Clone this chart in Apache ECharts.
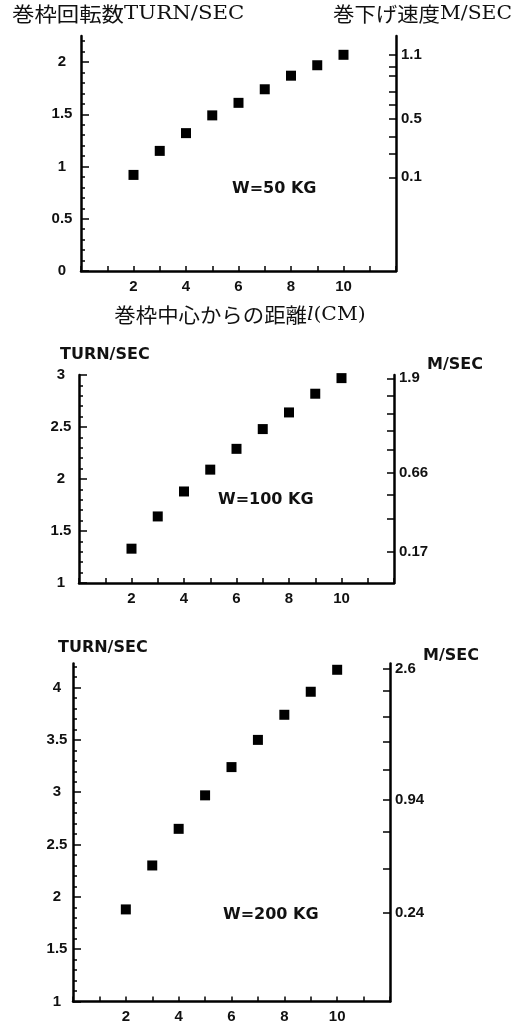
<!DOCTYPE html>
<html>
<head>
<meta charset="utf-8">
<script src="https://cdn.jsdelivr.net/npm/echarts@6/dist/echarts.min.js"></script>
<style>
  html, body { margin: 0; padding: 0; background: #fff; }
  #chart { width: 517px; height: 1024px; }
</style>
</head>
<body>
<div id="chart"></div>
<script>
// distance from drum centre l (cm)
const distance = [2, 3, 4, 5, 6, 7, 8, 9, 10];

// drum turns per second, one array per load W
const turns50 = [0.92, 1.15, 1.32, 1.49, 1.61, 1.74, 1.87, 1.97, 2.07];
const turns100 = [1.33, 1.64, 1.88, 2.09, 2.29, 2.48, 2.64, 2.82, 2.97];
const turns200 = [1.88, 2.30, 2.65, 2.97, 3.24, 3.50, 3.74, 3.96, 4.17];

// tick labels
const xTickLabels = [2, 4, 6, 8, 10];
const turnLabels50 = [0, 0.5, 1, 1.5, 2];
const turnLabels100 = [1, 1.5, 2, 2.5, 3];
const turnLabels200 = [1, 1.5, 2, 2.5, 3, 3.5, 4];

// lowering speed scale (right axis), ticks placed at turn-axis heights
const speedPos50 = [2.067, 1.957, 1.865, 1.715, 1.596, 1.459, 1.288, 1.125, 0.897];
const speedText50 = ["1.1", "", "", "", "", "0.5", "", "", "0.1"];
const speedPos100 = [2.968, 2.798, 2.625, 2.464, 2.286, 2.061, 1.853, 1.615, 1.301];
const speedText100 = ["1.9", "", "", "", "", "0.66", "", "", "0.17"];
const speedPos200 = [4.177, 3.969, 3.724, 3.485, 3.214, 2.927, 2.619, 2.265, 1.844];
const speedText200 = ["2.6", "", "", "", "", "0.94", "", "", "0.24"];

const panels = [
  { turns: turns50, labels: turnLabels50, min: 0, max: 2.25, speedPos: speedPos50, speedText: speedText50,
    grid: { left: 81, top: 36, width: 315, height: 235 }, labelMargin: 19 },
  { turns: turns100, labels: turnLabels100, min: 1, max: 3, speedPos: speedPos100, speedText: speedText100,
    grid: { left: 79, top: 375, width: 315, height: 208 }, labelMargin: 18 },
  { turns: turns200, labels: turnLabels200, min: 1, max: 4.23, speedPos: speedPos200, speedText: speedText200,
    grid: { left: 73, top: 663.5, width: 317, height: 338 }, labelMargin: 16 },
];

const ink = "#000";
const numFont = { color: "#111", fontFamily: "Liberation Sans", fontWeight: "bold", fontSize: 15 };
const boldSans = "bold 16px 'DejaVu Sans'";

const grids = [];
const xAxes = [];
const yAxes = [];
const series = [];

panels.forEach((p, i) => {
  grids.push(Object.assign({ containLabel: false, outerBoundsMode: "none" }, p.grid));

  xAxes.push({
    type: "value",
    gridIndex: i,
    min: 0,
    max: 12,
    interval: 1,
    axisLine: { show: true, lineStyle: { color: ink, width: 2.5 } },
    axisTick: { show: true, inside: true, length: 5, lineStyle: { color: ink, width: 1.5 } },
    axisLabel: Object.assign({ customValues: xTickLabels, margin: 8 }, numFont),
    splitLine: { show: false },
  });

  // turns per second (left)
  yAxes.push({
    type: "value",
    gridIndex: i,
    position: "left",
    min: p.min,
    max: p.max,
    interval: 0.5,
    axisLine: { show: true, lineStyle: { color: ink, width: 2.5 } },
    axisTick: { show: true, inside: true, length: 8, customValues: p.labels, lineStyle: { color: ink, width: 1.5 } },
    minorTick: { show: true, splitNumber: 5, length: 4, lineStyle: { color: ink, width: 1.5 } },
    axisLabel: Object.assign({ customValues: p.labels, align: "center", margin: p.labelMargin }, numFont),
    splitLine: { show: false },
    minorSplitLine: { show: false },
  });

  // lowering speed (right)
  const labelled = p.speedPos.filter((v, k) => p.speedText[k] !== "");
  yAxes.push({
    type: "value",
    gridIndex: i,
    position: "right",
    min: p.min,
    max: p.max,
    axisLine: { show: true, lineStyle: { color: ink, width: 2.5 } },
    axisTick: { show: true, inside: true, length: 7, customValues: p.speedPos, lineStyle: { color: ink, width: 1.5 } },
    axisLabel: Object.assign({
      customValues: labelled,
      margin: 5,
      formatter: (v) => {
        const k = p.speedPos.findIndex((s) => Math.abs(s - v) < 1e-6);
        return k >= 0 ? p.speedText[k] : "";
      },
    }, numFont),
    splitLine: { show: false },
  });

  series.push({
    type: "scatter",
    xAxisIndex: i,
    yAxisIndex: i * 2,
    symbol: "rect",
    symbolSize: 10,
    itemStyle: { color: ink, opacity: 1 },
    data: distance.map((d, k) => [d, p.turns[k]]),
    silent: true,
  });
});

function label(x, y, text, font, align) {
  return { type: "text", x: x, y: y, silent: true,
    style: { text: text, font: font, fill: "#111", align: align || "left", verticalAlign: "middle" } };
}

function richLabel(x, y, text, rich, align, sx) {
  return { type: "text", x: x, y: y, scaleX: sx || 1, silent: true,
    style: { text: text, rich: rich, fill: "#111", align: align || "left", verticalAlign: "middle" } };
}

const jpRich = {
  k: { fontFamily: "Noto Sans CJK JP", fontSize: 20, fill: "#111" },
  l: { fontFamily: "DejaVu Serif", fontSize: 19, fill: "#111" },
  i: { fontFamily: "DejaVu Serif", fontStyle: "italic", fontSize: 19, fill: "#111" },
};

const graphic = [
  richLabel(12, 14, "{k|巻枠回転数}{l|TURN/SEC}", jpRich, "left", 1.12),
  richLabel(333, 14, "{k|巻下げ速度}{l|M/SEC}", jpRich, "left", 1.07),
  richLabel(240, 315, "{k|巻枠中心からの距離}{i|l}{l|(CM)}", jpRich, "center", 1.07),
  label(232, 189, "W=50 KG", boldSans),
  label(218, 500, "W=100 KG", boldSans),
  label(223, 915, "W=200 KG", boldSans),
  label(60, 355, "TURN/SEC", boldSans),
  label(427, 365, "M/SEC", boldSans),
  label(58, 648, "TURN/SEC", boldSans),
  label(423, 656, "M/SEC", boldSans),
];

const chart = echarts.init(document.getElementById("chart"));
chart.setOption({
  backgroundColor: "#fff",
  animation: false,
  grid: grids,
  xAxis: xAxes,
  yAxis: yAxes,
  series: series,
  graphic: graphic,
});
</script>
</body>
</html>
